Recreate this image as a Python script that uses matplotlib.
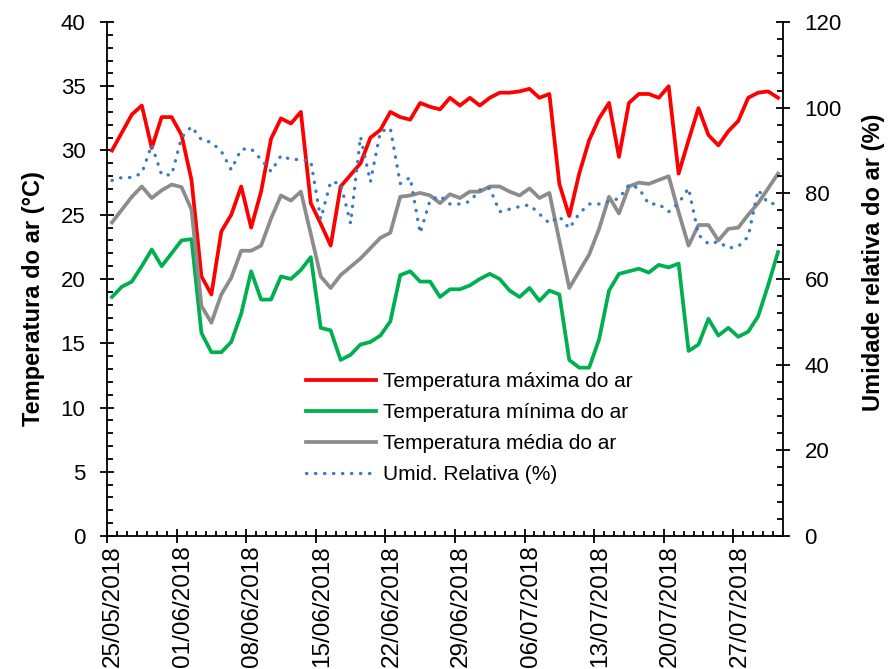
import numpy as np
import pandas as pd
import matplotlib
matplotlib.use('Agg')
import matplotlib.pyplot as plt
import matplotlib.dates as mdates
from matplotlib.transforms import ScaledTranslation

plt.rcParams['font.family'] = ['Liberation Sans', 'DejaVu Sans']

# daily series, 25/05/2018 to 31/07/2018
start_day = '2018-05-25'
n_days = 68

t_max = [30.0, 31.4, 32.8, 33.5, 30.2, 32.6, 32.6, 31.2, 27.7, 20.2,
         18.8, 23.7, 25.0, 27.2, 24.0, 26.8, 30.9, 32.5, 32.1, 33.0,
         25.9, 24.3, 22.6, 27.2, 28.1, 29.0, 31.0, 31.6, 33.0, 32.6,
         32.4, 33.7, 33.4, 33.2, 34.1, 33.5, 34.1, 33.5, 34.1, 34.5,
         34.5, 34.6, 34.8, 34.1, 34.4, 27.4, 24.9, 28.2, 30.8, 32.5,
         33.7, 29.5, 33.7, 34.4, 34.4, 34.1, 35.0, 28.2, 30.8, 33.3,
         31.2, 30.4, 31.5, 32.3, 34.1, 34.5, 34.6, 34.1]

t_min = [18.6, 19.4, 19.8, 21.0, 22.3, 21.0, 22.0, 23.0, 23.1, 15.8,
         14.3, 14.3, 15.1, 17.3, 20.6, 18.4, 18.4, 20.2, 20.0, 20.7,
         21.7, 16.2, 16.0, 13.7, 14.1, 14.9, 15.1, 15.6, 16.7, 20.3,
         20.6, 19.8, 19.8, 18.6, 19.2, 19.2, 19.5, 20.0, 20.4, 20.0,
         19.1, 18.6, 19.3, 18.3, 19.1, 18.8, 13.7, 13.1, 13.1, 15.3,
         19.1, 20.4, 20.6, 20.8, 20.5, 21.1, 20.9, 21.2, 14.4, 14.9,
         16.9, 15.6, 16.2, 15.5, 15.9, 17.1, 19.5, 22.1]

t_mean = [24.4, 25.4, 26.4, 27.2, 26.3, 26.9, 27.35, 27.15, 25.4, 17.9,
          16.6, 18.8, 20.1, 22.2, 22.2, 22.6, 24.7, 26.5, 26.1, 26.8,
          23.5, 20.2, 19.3, 20.3, 20.95, 21.6, 22.4, 23.2, 23.6, 26.4,
          26.5, 26.7, 26.5, 25.9, 26.6, 26.3, 26.8, 26.8, 27.2, 27.2,
          26.8, 26.5, 27.05, 26.3, 26.7, 23.0, 19.3, 20.6, 21.9, 23.9,
          26.4, 25.1, 27.2, 27.5, 27.4, 27.7, 28.0, 25.2, 22.6, 24.2,
          24.2, 23.0, 23.9, 24.0, 25.0, 25.9, 27.05, 28.2]

rh = [83.0, 83.7, 83.7, 84.7, 91.3, 84.3, 84.3, 93.0, 95.6, 92.5,
      91.9, 89.8, 85.5, 90.3, 90.4, 87.9, 85.1, 88.8, 87.9, 87.9,
      87.5, 74.0, 82.7, 82.3, 73.0, 93.2, 82.7, 94.4, 95.2, 82.3,
      83.7, 70.7, 78.4, 79.4, 77.5, 77.5, 78.1, 80.8, 81.2, 75.7,
      76.3, 76.9, 77.3, 75.2, 73.0, 74.6, 71.8, 75.3, 77.5, 77.5,
      78.1, 78.8, 82.0, 81.2, 77.5, 77.5, 75.7, 77.7, 81.2, 70.3,
      68.2, 68.7, 67.2, 67.6, 69.9, 80.8, 77.7, 77.5]

labels = ['Temperatura máxima do ar', 'Temperatura mínima do ar',
          'Temperatura média do ar', 'Umid. Relativa (%)']
colors = ['#ff0000', '#00b050', '#8c8c8c', '#3a7cc3']


def main():
    days = pd.date_range(start_day, periods=n_days, freq='D')
    x = mdates.date2num(days) + 0.5  # points sit mid-day

    fig = plt.figure(figsize=(8.9, 6.69), dpi=100)
    ax = fig.add_axes([107 / 890, 1 - 536 / 669, 676 / 890, 514 / 669])
    ax2 = ax.twinx()

    # temperatures on the left axis
    l1, = ax.plot(x, t_max, color=colors[0], lw=2.7, label=labels[0])
    l2, = ax.plot(x, t_min, color=colors[1], lw=2.7, label=labels[1])
    l3, = ax.plot(x, t_mean, color=colors[2], lw=2.7, label=labels[2])

    # humidity on the right axis, round dots
    l4, = ax2.plot(x, rh, color=colors[3], lw=2.4,
                   linestyle=(0, (0.1, 2.6)), dash_capstyle='round',
                   label=labels[3])

    x0 = mdates.date2num(pd.Timestamp(start_day))
    ax.set_xlim(x0, x0 + n_days)
    ax.set_ylim(0, 40)
    ax2.set_ylim(0, 120)

    # spines
    for a in (ax, ax2):
        a.spines['top'].set_visible(False)
        for s in a.spines.values():
            s.set_linewidth(1.3)
    ax.spines['right'].set_visible(False)
    ax2.spines['left'].set_visible(False)
    ax2.spines['bottom'].set_visible(False)

    # ticks
    major_days = mdates.date2num(pd.date_range(start_day, '2018-07-27', freq='7D'))
    ax.set_xticks(major_days)
    ax.xaxis.set_major_formatter(mdates.DateFormatter('%d/%m/%Y'))
    ax.xaxis.set_minor_locator(mdates.DayLocator())
    ax.set_yticks(np.arange(0, 41, 5))
    ax.set_yticks(np.arange(0, 41, 1), minor=True)
    ax2.set_yticks(np.arange(0, 121, 20))
    ax2.set_yticks(np.arange(0, 121, 4), minor=True)

    ax.tick_params(axis='y', which='major', direction='inout', length=10,
                   width=1.3, pad=10.5, labelsize=16)
    ax.tick_params(axis='y', which='minor', direction='in', length=4.5,
                   width=1.3)
    ax2.tick_params(axis='y', which='major', direction='inout', length=10,
                    width=1.3, pad=10.5, labelsize=16)
    ax2.tick_params(axis='y', which='minor', direction='in', length=4.5,
                    width=1.3)
    ax.tick_params(axis='x', which='major', direction='inout', length=10,
                   width=1.3, pad=1.5, labelsize=17.5, labelrotation=90)
    ax.tick_params(axis='x', which='minor', direction='in', length=3.5,
                   width=1.3)

    # date labels sit under the middle of the first day of each week
    shift = ScaledTranslation(0.06, 0, fig.dpi_scale_trans)
    for lab in ax.get_xticklabels():
        lab.set_transform(lab.get_transform() + shift)

    # axis titles
    ax.set_ylabel('Temperatura do ar (°C)', fontsize=17, fontweight='bold')
    ax.yaxis.set_label_coords(-0.092, 0.461)
    ax2.set_ylabel('Umidade relativa do ar (%)', fontsize=17,
                   fontweight='bold')
    ax2.yaxis.set_label_coords(1.117, 0.533)

    ax2.legend(handles=[l1, l2, l3, l4], loc='upper left',
               bbox_to_anchor=(306 / 890, 1 - 372 / 669),
               bbox_transform=fig.transFigure, frameon=False,
               fontsize=15, borderpad=0, borderaxespad=0,
               handlelength=3.35, handletextpad=0.34, labelspacing=0.58)

    fig.savefig('out.png', dpi=100)


if __name__ == '__main__':
    main()
